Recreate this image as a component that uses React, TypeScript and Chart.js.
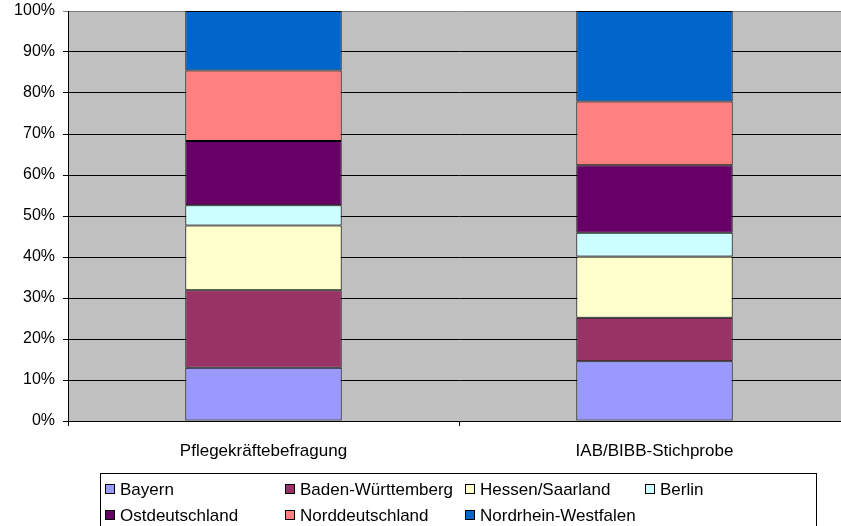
import React, { useEffect, useRef } from "react";
import { Chart, registerables } from "chart.js";

Chart.register(...registerables);

const categories = ["Pflegekräftebefragung", "IAB/BIBB-Stichprobe"];
const seriesNames = [
  "Bayern",
  "Baden-Württemberg",
  "Hessen/Saarland",
  "Berlin",
  "Ostdeutschland",
  "Norddeutschland",
  "Nordrhein-Westfalen",
];
const bayern = [13.0, 14.6];
const badenWuerttemberg = [18.9, 10.6];
const hessenSaarland = [15.8, 14.9];
const berlin = [4.9, 5.8];
const ostdeutschland = [15.7, 16.5];
const norddeutschland = [17.2, 15.5];
const nordrheinWestfalen = [14.5, 22.1];
const seriesValues = [
  bayern,
  badenWuerttemberg,
  hessenSaarland,
  berlin,
  ostdeutschland,
  norddeutschland,
  nordrheinWestfalen,
];
const seriesColors = [
  "#9999FF",
  "#993366",
  "#FFFFCC",
  "#CCFFFF",
  "#660066",
  "#FF8080",
  "#0066CC",
];
const yTicks = [0, 10, 20, 30, 40, 50, 60, 70, 80, 90, 100];

const FONT = "'Liberation Sans', Arial, sans-serif";

const legendLayout = [
  { x: 105, y: 484 },
  { x: 285, y: 484 },
  { x: 465, y: 484 },
  { x: 645, y: 484 },
  { x: 105, y: 510 },
  { x: 285, y: 510 },
  { x: 465, y: 510 },
];

export default function App() {
  const canvasRef = useRef<HTMLCanvasElement | null>(null);

  useEffect(() => {
    const canvas = canvasRef.current;
    if (!canvas) return;
    const bgPlugin = {
      id: "plotBg",
      beforeDraw(chart: any) {
        const { ctx, chartArea } = chart;
        ctx.save();
        ctx.fillStyle = "#C0C0C0";
        ctx.fillRect(
          chartArea.left,
          chartArea.top,
          chartArea.right - chartArea.left,
          chartArea.bottom - chartArea.top
        );
        ctx.restore();
      },
    };
    const chart = new Chart(canvas, {
      type: "bar",
      data: {
        labels: categories,
        datasets: seriesNames.map((name, i) => ({
          label: name,
          data: seriesValues[i],
          backgroundColor: seriesColors[i],
          borderColor: "#000000",
          borderWidth: 1,
          borderSkipped: false,
          barPercentage: 0.4,
          categoryPercentage: 1,
        })),
      },
      options: {
        responsive: false,
        animation: false,
        devicePixelRatio: 1,
        layout: { padding: { left: 0, right: 10, top: 11, bottom: 0 } },
        plugins: {
          legend: { display: false },
          tooltip: { enabled: false },
        },
        scales: {
          x: {
            stacked: true,
            offset: true,
            grid: {
              offset: true,
              drawOnChartArea: false,
              drawTicks: true,
              tickLength: 5,
              color: "#000000",
            },
            border: { color: "#000000", width: 1 },
            ticks: {
              color: "#000000",
              font: { family: FONT, size: 17 },
              padding: 15,
              maxRotation: 0,
            },
            afterFit(scale: any) {
              scale.height = 105;
              scale.paddingLeft = 0;
              scale.paddingRight = 0;
            },
          },
          y: {
            stacked: true,
            min: 0,
            max: 100,
            afterBuildTicks(scale: any) {
              scale.ticks = yTicks.map((v) => ({ value: v }));
            },
            grid: {
              color: (ctx: any) =>
                ctx.tick && ctx.tick.value === 100 ? "#808080" : "#000000",
              lineWidth: 1,
              drawTicks: true,
              tickLength: 5,
            },
            border: { color: "#000000", width: 1 },
            ticks: {
              color: "#000000",
              font: { family: FONT, size: 16 },
              padding: 8,
              callback: (v: any) => v + "%",
            },
            afterFit(scale: any) {
              scale.width = 68;
              scale.paddingTop = 0;
              scale.paddingBottom = 0;
            },
          },
        },
      },
      plugins: [bgPlugin],
    });
    return () => chart.destroy();
  }, []);

  return (
    <div
      style={{
        position: "fixed",
        left: 0,
        top: 0,
        width: 841,
        height: 526,
        overflow: "hidden",
        background: "#FFFFFF",
        fontFamily: FONT,
      }}
    >
      <canvas
        ref={canvasRef}
        width={860}
        height={526}
        style={{ position: "absolute", left: 0, top: 0, width: 860, height: 526 }}
      />
      <div
        style={{
          position: "absolute",
          left: 100,
          top: 473,
          width: 717,
          height: 80,
          border: "1px solid #000000",
          boxSizing: "border-box",
        }}
      />
      {seriesNames.map((name, i) => (
        <div key={name}>
          <div
            style={{
              position: "absolute",
              left: legendLayout[i].x,
              top: legendLayout[i].y,
              width: 10,
              height: 10,
              background: seriesColors[i],
              border: "1px solid #000000",
              boxSizing: "border-box",
            }}
          />
          <div
            style={{
              position: "absolute",
              left: legendLayout[i].x + 15,
              top: legendLayout[i].y - 4,
              fontSize: 17,
              lineHeight: "20px",
              color: "#000000",
              whiteSpace: "nowrap",
            }}
          >
            {name}
          </div>
        </div>
      ))}
    </div>
  );
}
